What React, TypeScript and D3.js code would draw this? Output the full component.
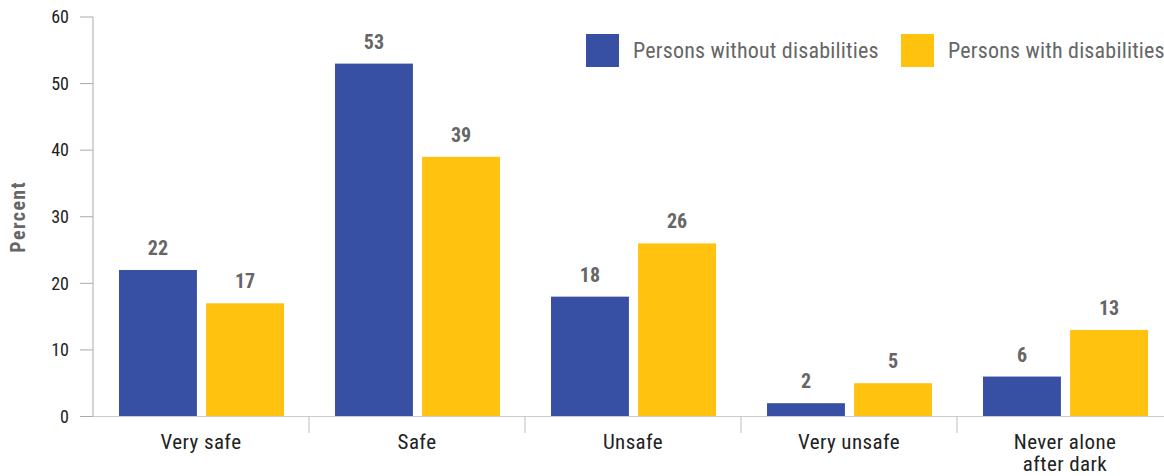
import React from "react";
import * as d3 from "d3";

const categories: string[][] = [["Very safe"], ["Safe"], ["Unsafe"], ["Very unsafe"], ["Never alone", "after dark"]];
const seriesNames = ["Persons without disabilities", "Persons with disabilities"];
const withoutDisabilities = [22, 53, 18, 2, 6];
const withDisabilities = [17, 39, 26, 5, 13];
const yTicks = [0, 10, 20, 30, 40, 50, 60];
const colors = ["#3750A3", "#FEC20F"];

const FONT = "'Liberation Sans Narrow', 'Roboto Condensed', 'Arial Narrow', Roboto, sans-serif";

export default function App() {
  const W = 1164, H = 476;
  const x0 = 93, x1 = 1173;
  const y = d3.scaleLinear().domain([0, 60]).range([416.5, 17]);
  const xb = d3.scaleBand<number>().domain(d3.range(categories.length)).range([x0, x1]).padding(0);
  const xs = d3.scaleBand<number>().domain([0, 1]).range([26, 191]).paddingInner(0.105);
  const series = [withoutDisabilities, withDisabilities];
  return (
    <svg width={W} height={H} style={{ position: "absolute", left: 0, top: 0, fontFamily: FONT }}>
      {/* y axis */}
      <line x1={x0} x2={x0} y1={y(60)} y2={y(0)} stroke="#aaa" strokeWidth={1} />
      {yTicks.map((t) => (
        <g key={t}>
          <line x1={80} x2={x0} y1={y(t)} y2={y(t)} stroke="#aaa" strokeWidth={1} />
          <text x={69} y={y(t)} dy="0.35em" textAnchor="end" fontSize={18} fill="#222">{t}</text>
        </g>
      ))}
      <text transform={`translate(25,${y(30)}) rotate(-90)`} textAnchor="middle" fontSize={20} letterSpacing={1.4} fontWeight="bold" fill="#666">Percent</text>
      {/* bars */}
      {categories.map((c, i) => (
        <g key={i} transform={`translate(${xb(i)},0)`}>
          {series.map((s, j) => (
            <g key={j}>
              <rect x={xs(j)} y={y(s[i])} width={xs.bandwidth()} height={y(0) - y(s[i])} fill={colors[j]} />
              <text x={(xs(j) as number) + xs.bandwidth() / 2} y={y(s[i]) - 15} textAnchor="middle" fontSize={20} fontWeight="bold" fill="#666">{s[i]}</text>
            </g>
          ))}
          {c.map((line, k) => (
            <text key={k} x={xb.bandwidth() / 2} y={449 + k * 22} textAnchor="middle" fontSize={21} letterSpacing={0.4} fill="#222">{line}</text>
          ))}
        </g>
      ))}
      {/* x axis */}
      <line x1={x0} x2={W} y1={y(0)} y2={y(0)} stroke="#ccc" strokeWidth={1} />
      {d3.range(1, categories.length).map((i) => (
        <line key={i} x1={xb(i)} x2={xb(i)} y1={y(0)} y2={433} stroke="#bbb" strokeWidth={1} />
      ))}
      {/* legend */}
      {seriesNames.map((n, j) => {
        const lx = [586, 901][j];
        return (
          <g key={n}>
            <rect x={lx} y={34} width={33} height={33} fill={colors[j]} />
            <text x={lx + 47} y={50} dy="0.35em" fontSize={22} letterSpacing={0.2} fill="#666">{n}</text>
          </g>
        );
      })}
    </svg>
  );
}
